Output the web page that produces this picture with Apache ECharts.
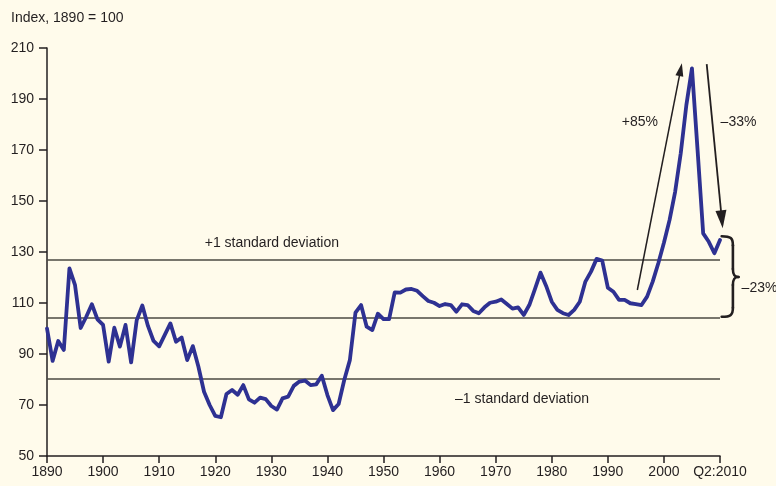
<!DOCTYPE html>
<html>
<head>
<meta charset="utf-8">
<script src="https://cdn.jsdelivr.net/npm/echarts@6/dist/echarts.min.js"></script>
<style>
html,body{margin:0;padding:0;background:#fffbeb;}
#chart{width:776px;height:486px;}
</style>
</head>
<body>
<div id="chart"></div>
<script>
// ---- data ----
const years = [
1890,1891,1892,1893,1894,1895,1896,1897,1898,1899,
1900,1901,1902,1903,1904,1905,1906,1907,1908,1909,
1910,1911,1912,1913,1914,1915,1916,1917,1918,1919,
1920,1921,1922,1923,1924,1925,1926,1927,1928,1929,
1930,1931,1932,1933,1934,1935,1936,1937,1938,1939,
1940,1941,1942,1943,1944,1945,1946,1947,1948,1949,
1950,1951,1952,1953,1954,1955,1956,1957,1958,1959,
1960,1961,1962,1963,1964,1965,1966,1967,1968,1969,
1970,1971,1972,1973,1974,1975,1976,1977,1978,1979,
1980,1981,1982,1983,1984,1985,1986,1987,1988,1989,
1990,1991,1992,1993,1994,1995,1996,1997,1998,1999,
2000,2001,2002,2003,2004,2005,2006,2007,2008,2009,
2010];
const priceIndex = [
100,87.3,95.1,91.6,123.6,117,100.2,104.6,109.5,103.6,
101.4,87,100.3,92.9,101.4,86.7,103.3,109,101,95.1,
93,97.5,102,94.8,96.5,87.6,93.1,85,75.2,70,
65.7,65.2,74.3,75.9,74,77.8,72.2,70.9,72.9,72.3,
69.6,68.2,72.6,73.3,77.5,79.2,79.6,77.8,78.1,81.5,
73.9,68,70.4,79.8,87.6,106.2,109.2,100.7,99.4,105.8,
103.7,103.7,114.2,114.1,115.3,115.5,114.8,112.7,110.8,110.1,
108.8,109.6,109.2,106.6,109.5,109.2,106.9,106,108.3,110.1,
110.5,111.4,109.6,107.8,108.3,105.3,109.2,115.4,121.9,116.7,
110.5,107.3,106,105.3,107.3,110.5,118.4,122.3,127.3,126.6,
116,114.4,111.2,111.2,109.9,109.6,109.2,112.5,118.4,125.6,
133.6,142.5,153.6,168.7,187.6,202,170,137.3,134,129.5,
134.7];
const sdLevels = [127, 104.3, 80.3];   // +1 SD, mean, -1 SD
const xTickFirst = 1890, xTickLast = 2010, xTickStep = 10;
const xLastTickLabel = 'Q2:2010';
const yTickMin = 50, yTickMax = 210, yTickStep = 20;
const unitLabel = 'Index, 1890 = 100';
const plusSDLabel = '+1 standard deviation';
const minusSDLabel = '\u20131 standard deviation';
const riseLabel = '+85%';
const fallLabel = '\u201333%';
const gapLabel = '\u201323%';

// ---- chart ----
const FONT = "'Liberation Sans', Arial, sans-serif";
const INK = '#231f20';
const chart = echarts.init(document.getElementById('chart'), null, {renderer:'canvas'});

chart.setOption({
  backgroundColor: '#fffbeb',
  animation: false,
  grid: {left: 47, right: 56, top: 48, bottom: 30, containLabel: false},
  xAxis: {
    type: 'value', min: xTickFirst, max: xTickLast, interval: xTickStep,
    axisLine: {show: true, lineStyle: {color: INK, width: 1.5}},
    axisTick: {show: true, length: 7, lineStyle: {color: INK, width: 1.5}},
    splitLine: {show: false},
    axisLabel: {
      margin: 9, color: INK, fontFamily: FONT, fontSize: 14,
      formatter: v => (v === xTickLast ? xLastTickLabel : String(v))
    }
  },
  yAxis: {
    type: 'value', min: yTickMin, max: yTickMax, interval: yTickStep,
    axisLine: {show: true, lineStyle: {color: INK, width: 1.5}},
    axisTick: {show: true, length: 8, lineStyle: {color: INK, width: 1.5}},
    splitLine: {show: false},
    axisLabel: {margin: 13, color: INK, fontFamily: FONT, fontSize: 14}
  },
  series: [{
    type: 'line',
    data: years.map((y, i) => [y, priceIndex[i]]),
    symbol: 'none',
    lineStyle: {color: '#2e3192', width: 3.8, join: 'round', cap: 'round'},
    z: 5,
    markLine: {
      silent: true, symbol: 'none', animation: false,
      label: {show: false},
      lineStyle: {color: '#4b4a42', width: 1.5, type: 'solid'},
      data: sdLevels.map(v => ({yAxis: v}))
    }
  }]
});

// ---- annotations (placed in data space, converted to pixels) ----
function px(x, y) { return chart.convertToPixel({gridIndex: 0}, [x, y]); }

function arrow(from, to, len, wid, lw) {
  const p0 = px(from[0], from[1]), p1 = px(to[0], to[1]);
  const dx = p1[0] - p0[0], dy = p1[1] - p0[1];
  const d = Math.hypot(dx, dy), ux = dx / d, uy = dy / d;
  const bx = p1[0] - ux * len, by = p1[1] - uy * len;
  const nx = -uy, ny = ux;
  return [
    {type: 'line', shape: {x1: p0[0], y1: p0[1], x2: bx + ux, y2: by + uy},
     style: {stroke: INK, lineWidth: lw}, z: 10},
    {type: 'polygon', shape: {points: [[p1[0], p1[1]], [bx + nx * wid / 2, by + ny * wid / 2], [bx - nx * wid / 2, by - ny * wid / 2]]},
     style: {fill: INK}, z: 10}
  ];
}

function text(str, x, y, align) {
  const p = px(x, y);
  return {type: 'text', x: p[0], y: p[1], z: 10,
    style: {text: str, fill: INK, font: '14px ' + FONT, textAlign: align, textVerticalAlign: 'middle'}};
}

function brace(xLeft, xSpine, xTip, yTop, yMid, yBot) {
  const L = px(xLeft, yTop)[0], S = px(xSpine, yTop)[0], P = px(xTip, yTop)[0];
  const T = px(xLeft, yTop)[1], M = px(xLeft, yMid)[1], B = px(xLeft, yBot)[1];
  const st = {stroke: INK, lineWidth: 2.6, fill: null, lineCap: 'round'};
  const bz = (x1, y1, c1x, c1y, c2x, c2y, x2, y2) => ({type: 'bezierCurve', z: 10, style: st,
    shape: {x1: x1, y1: y1, cpx1: c1x, cpy1: c1y, cpx2: c2x, cpy2: c2y, x2: x2, y2: y2}});
  const ln = (x1, y1, x2, y2) => ({type: 'line', z: 10, style: st, shape: {x1: x1, y1: y1, x2: x2, y2: y2}});
  return [
    bz(L, T, S - 2, T, S, T + 2, S, T + 9),
    ln(S, T + 9, S, M - 8),
    bz(S, M - 8, S, M - 3, S + 1, M, P, M),
    bz(P, M, S + 1, M, S, M + 3, S, M + 8),
    ln(S, M + 8, S, B - 9),
    bz(S, B - 9, S, B - 2, S - 2, B, L, B)
  ];
}

const g = [];
g.push(...arrow([1995.26, 115.1], [2003.2, 204], 13, 8, 1.5));
g.push(...arrow([2007.63, 203.7], [2010.48, 139.3], 18, 11, 1.8));
g.push(...brace(2010.3, 2012.3, 2013.3, 136.2, 120.2, 104.6));
g.push(text(riseLabel, 1995.7, 180.8, 'center'));
g.push(text(fallLabel, 2013.3, 180.8, 'center'));
g.push(text(gapLabel, 2013.85, 115.8, 'left'));
g.push(text(plusSDLabel, 1930.1, 133.5, 'center'));
g.push(text(minusSDLabel, 1974.7, 72.2, 'center'));
g.push({type: 'text', left: 11, top: 11, z: 10,
  style: {text: unitLabel, fill: INK, font: '14px ' + FONT}});

chart.setOption({graphic: g});
</script>
</body>
</html>
